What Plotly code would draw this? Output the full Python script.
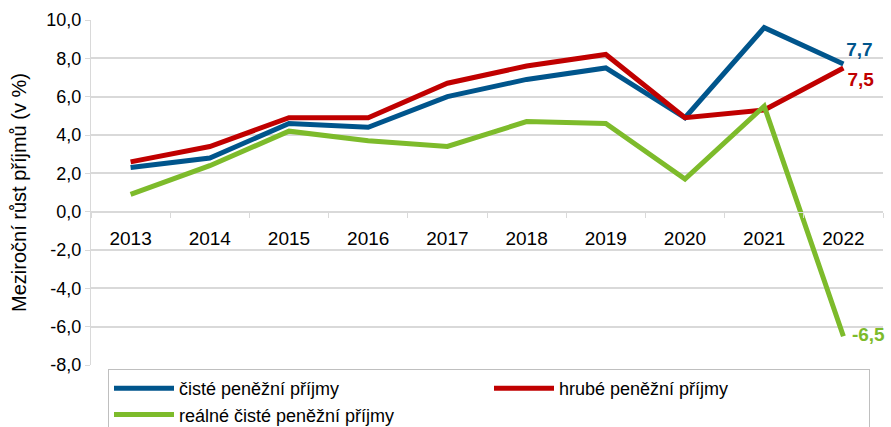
import plotly.graph_objects as go

years = ["2013", "2014", "2015", "2016", "2017", "2018", "2019", "2020", "2021", "2022"]
ciste = [2.3, 2.8, 4.6, 4.4, 6.0, 6.9, 7.5, 4.9, 9.6, 7.7]
hrube = [2.6, 3.4, 4.9, 4.9, 6.7, 7.6, 8.2, 4.9, 5.3, 7.5]
realne = [0.9, 2.4, 4.2, 3.7, 3.4, 4.7, 4.6, 1.7, 5.5, -6.5]

names = ["čisté peněžní příjmy", "hrubé peněžní příjmy", "reálné čisté peněžní příjmy"]
colors = ["#00558C", "#C00000", "#7DBB2B"]
series = [ciste, hrube, realne]
label_pos = ["top right", "bottom right", "middle right"]
label_pad = [3, 5, 12]
y_range = [-8, 10]
y_ticks = [-8, -6, -4, -2, 0, 2, 4, 6, 8, 10]
y_ticktext = [f"{v:.1f}".replace(".", ",") for v in y_ticks]

arial = "'Liberation Sans', Arial, sans-serif"

W, H = 891, 427
top, bottom = 20, 365
left, right = 91, 883
fig = go.Figure()
for name, col, vals in zip(names, colors, series):
    fig.add_trace(go.Scatter(x=years, y=vals, name=name, mode="lines",
                             line=dict(color=col, width=5)))

# end-of-line value labels (invisible marker only pads the label away from the point)
for col, vals, pos, pad in zip(colors, series, label_pos, label_pad):
    v = vals[-1]
    fig.add_trace(go.Scatter(x=[years[-1]], y=[v], mode="markers+text",
                             marker=dict(size=pad, opacity=0),
                             text=["<b>" + f"{v:.1f}".replace(".", ",") + "</b>"],
                             textposition=pos, cliponaxis=False,
                             textfont=dict(color=col, size=19, family=arial),
                             showlegend=False, hoverinfo="skip"))

ph = H - top  # paper height with b=0
dom0 = (H - bottom) / ph
zero_pos = dom0 + (0 - y_range[0]) / (y_range[1] - y_range[0]) * (1 - dom0)
pw = right - left

fig.update_layout(
    width=W, height=H,
    margin=dict(l=left, r=W - right, t=top, b=0, autoexpand=False),
    plot_bgcolor="white", paper_bgcolor="white",
    showlegend=True,
    legend=dict(orientation="h", x=(108 - left) / pw, xanchor="left",
                y=(H - 369) / ph, yanchor="top",
                bordercolor="#BFBFBF", borderwidth=1, bgcolor="white",
                font=dict(family=arial, size=18, color="#000000"),
                entrywidth=305, tracegroupgap=0, itemwidth=60),
    xaxis=dict(type="category", range=[-0.5, 9.5], anchor="free", position=zero_pos,
               showline=True, linecolor="#D9D9D9", linewidth=1, automargin=False,
               ticks="outside", tickson="boundaries", ticklen=5, tickcolor="#D9D9D9",
               showgrid=False, tickfont=dict(family=arial, size=19, color="#000000"),
               ticklabelstandoff=10),
    yaxis=dict(domain=[dom0, 1], range=y_range, tickvals=y_ticks, ticktext=y_ticktext,
               showgrid=True, gridcolor="#D9D9D9", gridwidth=1.5, automargin=False,
               zeroline=False, showline=True, linecolor="#D9D9D9", linewidth=1,
               ticks="outside", ticklen=5, tickcolor="#D9D9D9",
               tickfont=dict(family=arial, size=18, color="#000000"),
               title=dict(text="Meziroční růst příjmů (v %)", standoff=14,
                          font=dict(family=arial, size=20, color="#000000"))),
)

fig.write_html("out.html", config={"displayModeBar": False},
               post_script="document.body.style.margin='0px';document.body.style.overflow='hidden';")
